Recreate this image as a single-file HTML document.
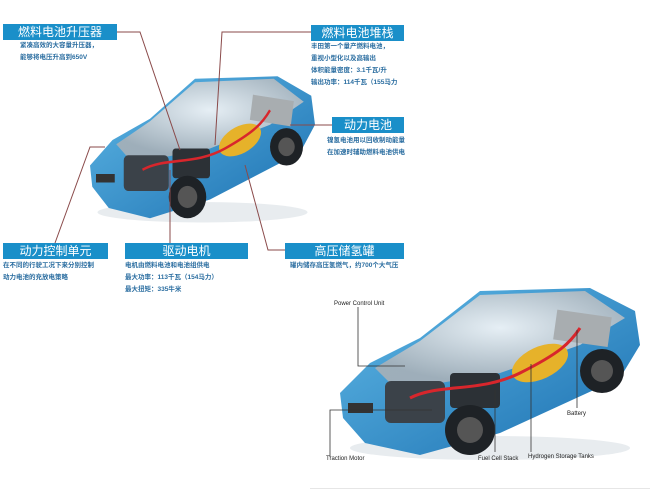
<!DOCTYPE html>
<html><head><meta charset="utf-8"><style>
body{margin:0;background:#fff;width:650px;height:497px;overflow:hidden;position:relative;font-family:"Liberation Sans","Noto Sans CJK SC",sans-serif}
.b{position:absolute;background:#1a8fc9;color:#fff;font-size:12px;line-height:16px;text-align:center;height:16px}
.t{position:absolute;color:#2a6da0;font-size:6.5px;line-height:12px;font-weight:bold;white-space:nowrap}
.e{position:absolute;color:#222;font-size:6px;white-space:nowrap}
svg{position:absolute;left:0;top:0}
</style></head><body>
<svg width="650" height="497">
<defs>
<linearGradient id="bg" x1="0" y1="0" x2="1" y2="1"><stop offset="0" stop-color="#5fb8e6"/><stop offset="1" stop-color="#1b6fb0"/></linearGradient>
<radialGradient id="gl" cx=".5" cy=".4" r=".6"><stop offset="0" stop-color="#f4f6f8"/><stop offset="1" stop-color="#a6b0b8"/></radialGradient>
<g id="car">
<ellipse cx="150" cy="165" rx="140" ry="12" fill="#e8ecef"/>
<polygon points="0,110 30,80 80,55 140,8 250,5 295,28 300,62 280,95 160,150 80,172 25,160 3,135" fill="url(#bg)"/>
<polygon points="35,85 80,58 140,12 245,8 285,35 240,62 160,90 100,100 50,100" fill="url(#gl)" opacity=".92"/>
<rect x="45" y="98" width="60" height="42" rx="6" fill="#3b4249"/>
<rect x="110" y="90" width="50" height="35" rx="4" fill="#2c3136"/>
<ellipse cx="200" cy="80" rx="30" ry="16" fill="#e6b22a" transform="rotate(-25 200 80)"/>
<rect x="215" y="30" width="55" height="30" fill="#a8adb0" transform="rotate(8 240 45)"/>
<path d="M70,115 C100,100 140,110 180,90 S230,60 240,45" stroke="#d8262c" stroke-width="3" fill="none"/>
<circle cx="130" cy="147" r="25" fill="#1e2226"/><circle cx="130" cy="147" r="13" fill="#555"/>
<circle cx="262" cy="88" r="22" fill="#1e2226"/><circle cx="262" cy="88" r="11" fill="#555"/>
<rect x="8" y="120" width="25" height="10" fill="#333"/>
</g>
</defs>
<use href="#car" transform="translate(90,72) scale(0.75,0.85)"/>
<use href="#car" transform="translate(340,283)"/>
<g stroke="#8a4a4a" stroke-width="1" fill="none">
<polyline points="117,32 140,32 180,150"/>
<polyline points="311,32 222,32 215,145"/>
<polyline points="332,125 290,125"/>
<polyline points="55,243 90,147 105,147"/>
<polyline points="170,243 170,170"/>
<polyline points="285,250 268,250 245,165"/>
</g>
<g stroke="#333" stroke-width="0.8" fill="none">
<polyline points="358,307 358,366 405,366"/>
<polyline points="330,457 330,410 432,410"/>
<polyline points="495,452 495,390"/>
<polyline points="531,452 531,364"/>
<polyline points="577,408 577,330"/>
</g>
</svg>
<div class="b" style="left:3px;top:24px;width:114px">燃料电池升压器</div>
<div class="t" style="left:20px;top:40px">紧凑高效的大容量升压器，<br>能够将电压升高到650V</div>
<div class="b" style="left:311px;top:25px;width:93px">燃料电池堆栈</div>
<div class="t" style="left:311px;top:41px">丰田第一个量产燃料电池，<br>重视小型化以及高输出<br>体积能量密度：3.1千瓦/升<br>输出功率：114千瓦（155马力</div>
<div class="b" style="left:332px;top:117px;width:72px">动力电池</div>
<div class="t" style="left:327px;top:135px">镍氢电池用以回收制动能量<br>在加速时辅助燃料电池供电</div>
<div class="b" style="left:3px;top:243px;width:105px">动力控制单元</div>
<div class="t" style="left:3px;top:260px">在不同的行驶工况下来分别控制<br>动力电池的充放电策略</div>
<div class="b" style="left:125px;top:243px;width:123px">驱动电机</div>
<div class="t" style="left:125px;top:260px">电机由燃料电池和电池组供电<br>最大功率：113千瓦（154马力）<br>最大扭矩：335牛米</div>
<div class="b" style="left:285px;top:243px;width:119px">高压储氢罐</div>
<div class="t" style="left:290px;top:260px">罐内储存高压氢燃气，约700个大气压</div>
<div class="e" style="left:334px;top:301px">Power Control Unit</div>
<div class="e" style="left:567px;top:411px">Battery</div>
<div class="e" style="left:326px;top:456px">Traction Motor</div>
<div class="e" style="left:478px;top:456px">Fuel Cell Stack</div>
<div class="e" style="left:528px;top:454px">Hydrogen Storage Tanks</div>
<div style="position:absolute;left:310px;top:488px;width:340px;height:1px;background:#e6e6e6"></div>
</body></html>
